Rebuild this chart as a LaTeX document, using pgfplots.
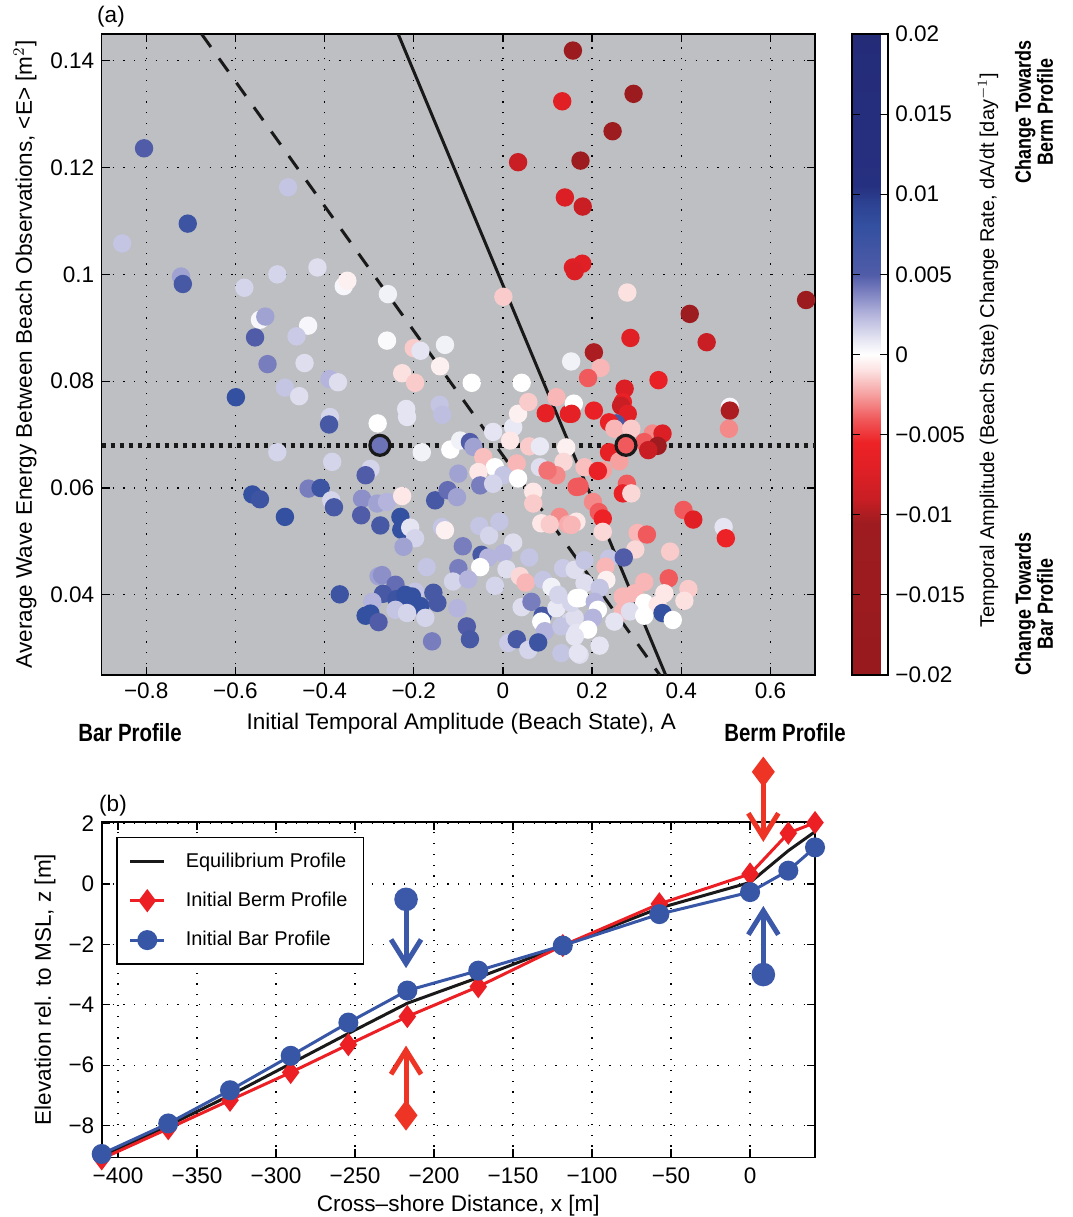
\documentclass[border=0pt]{standalone}
\usepackage{pgfplots}
\pgfplotsset{compat=1.18}
\usepackage{fontspec}
\setmainfont{Liberation Sans}
\usetikzlibrary{arrows.meta}
\definecolor{bggray}{RGB}{190,191,194}
\definecolor{lred}{RGB}{236,32,36}
\definecolor{lblue}{RGB}{56,86,166}
\definecolor{ared}{RGB}{238,52,36}
\definecolor{ablue}{RGB}{60,88,168}
\newcommand{\condbf}[2]{\scalebox{0.82}[1]{\fontsize{#1}{#1}\selectfont\bfseries #2}}
\pgfplotsset{
  every axis/.append style={font=\fontsize{11.3}{13.5}\selectfont, line width=0.8bp},
  every tick label/.append style={font=\fontsize{11.3}{13.5}\selectfont},
  tick align=inside,
  major tick length=4bp,
  every tick/.style={black, line width=0.6bp},
}
\pgfplotstableread{
x y c
-0.805 0.1236 0.005
-0.482 0.1163 0.002
-0.707 0.1095 0.007
-0.854 0.1058 0.002
-0.722 0.0996 0.003
-0.718 0.0982 0.006
-0.580 0.0975 0.0015
-0.506 0.1000 0.0015
-0.416 0.1013 0.0012
-0.357 0.0978 0.0003
-0.349 0.0988 -0.0005
-0.545 0.0915 0.0003
-0.533 0.0921 0.003
-0.437 0.0904 0.0003
-0.556 0.0882 0.005
-0.463 0.0884 0.0018
-0.528 0.0832 0.004
-0.445 0.0834 0.0012
-0.389 0.0804 0.0025
-0.370 0.0798 0.0012
-0.489 0.0788 0.002
-0.457 0.0772 0.0012
-0.599 0.0770 0.008
-0.388 0.0733 0.0015
-0.390 0.0719 0.006
-0.506 0.0667 0.0015
-0.383 0.0649 0.0015
-0.562 0.0588 0.008
-0.545 0.0579 0.007
-0.489 0.0546 0.008
-0.436 0.0599 0.004
-0.409 0.0600 0.007
-0.385 0.0577 0.0015
-0.379 0.0564 0.006
-0.366 0.0401 0.007
-0.258 0.0963 0.0005
0.001 0.0958 -0.0015
-0.260 0.0876 0.0002
-0.200 0.0862 -0.0015
-0.185 0.0857 0.001
-0.130 0.0868 0.0005
-0.141 0.0828 -0.0005
-0.226 0.0815 -0.001
-0.197 0.0797 -0.0015
-0.070 0.0797 0
0.042 0.0797 0
0.153 0.0837 0.0005
0.157 0.1013 -0.007
-0.217 0.0748 0.001
-0.215 0.0733 0.001
-0.142 0.0756 0.002
-0.136 0.0737 0.0022
-0.281 0.0721 0
-0.182 0.0667 0.0005
-0.118 0.0672 0
-0.096 0.0689 0.0005
-0.074 0.0686 0.005
-0.066 0.0677 0.003
-0.022 0.0705 0.001
0.023 0.0714 0.0008
0.034 0.0739 -0.0005
0.057 0.0761 -0.0015
0.120 0.0770 -0.002
0.096 0.0740 -0.0065
0.148 0.0739 -0.0065
0.016 0.0689 -0.0008
0.059 0.0678 -0.0015
0.083 0.0678 0.0008
0.142 0.0676 -0.0005
-0.044 0.0658 -0.0018
-0.018 0.0639 0
-0.055 0.0630 -0.0008
0.031 0.0646 -0.002
0.083 0.0639 0.0012
0.136 0.0649 -0.0012
0.120 0.0624 -0.003
-0.100 0.0627 0.003
-0.297 0.0636 0.0015
-0.308 0.0624 0.005
0.001 0.0624 0.002
-0.051 0.0605 0.004
-0.022 0.0608 0.0015
0.034 0.0618 0
-0.316 0.0580 0.0035
-0.282 0.0571 0.003
-0.260 0.0574 0.0025
-0.226 0.0585 -0.0008
-0.152 0.0577 0.006
-0.124 0.0596 0.0045
-0.103 0.0583 0.003
0.068 0.0593 -0.0008
0.068 0.0571 -0.0015
0.165 0.0602 -0.004
-0.318 0.0549 0.005
-0.275 0.0530 0.006
-0.230 0.0546 0.008
-0.228 0.0522 0.008
-0.208 0.0526 0.001
-0.197 0.0506 0.0015
-0.223 0.0490 0.003
-0.137 0.0527 0.002
-0.130 0.0521 -0.0005
-0.053 0.0529 0.002
-0.031 0.0511 0.0015
-0.008 0.0537 0.002
0.023 0.0498 0.0012
0.086 0.0534 -0.0008
0.127 0.0546 -0.003
0.146 0.0532 -0.0022
0.105 0.0532 -0.0015
-0.090 0.0491 0.004
-0.048 0.0475 0.006
-0.033 0.0470 0.0025
0.001 0.0478 0.0025
0.059 0.0470 0.002
-0.051 0.0452 0
0.008 0.0448 0.0012
-0.171 0.0452 0.002
-0.100 0.0450 0.004
-0.112 0.0425 0.0015
-0.078 0.0429 0.0025
-0.018 0.0417 0.0015
0.038 0.0435 -0.0012
0.051 0.0423 -0.002
0.090 0.0428 0.002
-0.279 0.0435 0.003
-0.271 0.0437 0.0035
-0.241 0.0419 0.0045
-0.197 0.0406 0.002
-0.269 0.0402 0.006
-0.293 0.0387 0.0025
-0.239 0.0392 0.007
-0.219 0.0400 0.008
-0.204 0.0397 0.008
-0.185 0.0379 0.008
-0.156 0.0404 0.006
-0.147 0.0385 0.006
-0.241 0.0372 0.002
-0.215 0.0366 0.0015
-0.174 0.0357 0.0015
-0.102 0.0375 0.0025
-0.308 0.0361 0.008
-0.297 0.0365 0.008
-0.279 0.0349 0.005
-0.081 0.0341 0.005
-0.074 0.0317 0.006
-0.159 0.0313 0.004
0.042 0.0377 0.0012
0.064 0.0387 0.004
0.089 0.0361 0.006
0.086 0.0350 0
0.120 0.0375 0.0008
0.150 0.0350 0.0015
0.094 0.0332 0.0025
0.131 0.0341 0.002
0.161 0.0357 0.0012
0.165 0.0329 0.001
0.012 0.0310 0.0018
0.031 0.0317 0.006
0.057 0.0297 0.0015
0.079 0.0311 0.007
0.131 0.0291 0.002
0.172 0.0288 0.0012
0.153 0.0385 0.0015
0.109 0.0415 0.0005
0.124 0.0400 0.0015
0.165 0.0394 0
0.135 0.0450 0.0018
0.161 0.0447 0.0012
0.178 0.1020 -0.007
0.161 0.1006 -0.0075
0.279 0.0966 -0.001
0.419 0.0926 -0.012
0.680 0.0952 -0.013
0.286 0.0881 -0.007
0.457 0.0873 -0.009
0.204 0.0854 -0.010
0.219 0.0825 -0.002
0.191 0.0806 -0.004
0.349 0.0802 -0.006
0.273 0.0786 -0.0075
0.269 0.0761 -0.006
0.265 0.0754 -0.009
0.280 0.0739 -0.007
0.204 0.0745 -0.006
0.159 0.0758 0
0.154 0.0739 -0.0065
0.509 0.0752 0.0003
0.509 0.0745 -0.010
0.507 0.0711 -0.003
0.254 0.0721 0.006
0.238 0.0723 -0.006
0.250 0.0711 -0.002
0.288 0.0711 -0.0015
0.336 0.0702 -0.003
0.358 0.0702 -0.0075
0.317 0.0686 -0.004
0.347 0.0679 -0.011
0.326 0.0671 -0.009
0.238 0.0667 -0.0065
0.261 0.0650 -0.0025
0.183 0.0639 -0.0018
0.224 0.0633 -0.0025
0.213 0.0632 -0.006
0.100 0.0633 -0.0035
0.172 0.0603 -0.004
0.278 0.0608 -0.004
0.269 0.0590 -0.006
0.288 0.0590 -0.0012
0.202 0.0574 -0.003
0.215 0.0555 -0.004
0.224 0.0543 -0.0055
0.165 0.0537 -0.0008
0.154 0.0531 -0.002
0.224 0.0518 -0.0012
0.302 0.0516 -0.002
0.323 0.0513 -0.004
0.405 0.0559 -0.004
0.427 0.0541 -0.007
0.495 0.0527 0.001
0.500 0.0506 -0.0055
0.297 0.0485 -0.0012
0.238 0.0468 0.002
0.183 0.0465 0.002
0.271 0.0470 0.005
0.375 0.0481 -0.0015
0.230 0.0453 -0.002
0.232 0.0428 -0.0005
0.183 0.0422 0.0012
0.317 0.0424 -0.002
0.372 0.0431 -0.004
0.416 0.0411 -0.0015
0.407 0.0389 -0.001
0.362 0.0403 -0.0008
0.295 0.0403 -0.002
0.269 0.0397 -0.002
0.217 0.0413 0.002
0.172 0.0394 0
0.206 0.0387 0.0025
0.317 0.0385 0
0.347 0.0381 -0.0008
0.269 0.0369 -0.002
0.285 0.0369 0.0012
0.358 0.0366 0.008
0.381 0.0353 0
0.317 0.0361 0
0.213 0.0372 0
0.202 0.0357 0.0025
0.191 0.0335 0
0.250 0.0350 0.001
0.161 0.0322 0.001
0.217 0.0305 0.001
0.168 0.0291 0.001
0.157 0.1419 -0.013
0.293 0.1338 -0.013
0.133 0.1324 -0.007
0.246 0.1268 -0.012
0.034 0.1210 -0.009
0.174 0.1213 -0.012
0.139 0.1144 -0.0075
0.179 0.1127 -0.009
}\scatterdata
\pgfplotstableread{
x black red blue
-410.3 -9.03 -9.10 -8.94
-368.2 -8.00 -8.10 -7.93
-329.1 -7.00 -7.16 -6.83
-290.7 -5.95 -6.24 -5.69
-254.2 -4.95 -5.32 -4.59
-216.9 -3.95 -4.39 -3.53
-172.0 -3.10 -3.40 -2.87
-118.5 -2.04 -2.04 -2.04
-57.4 -0.80 -0.66 -1.00
0.0 0.05 0.33 -0.27
24.2 1.10 1.68 0.44
41.1 1.73 2.03 1.21
}\profiles
\begin{document}
\begin{tikzpicture}
\path[use as bounding box] (0,0) rectangle (536.5bp,-608.5bp);
\begin{axis}[
  at={(50.85bp,-17bp)}, anchor=north west, scale only axis,
  width=356.65bp, height=320.5bp,
  xmin=-0.9, xmax=0.7, ymin=0.025, ymax=0.145,
  xtick={-0.8,-0.6,-0.4,-0.2,0,0.2,0.4,0.6},
  xticklabels={−0.8,−0.6,−0.4,−0.2,0,0.2,0.4,0.6},
  ytick={0.04,0.06,0.08,0.1,0.12,0.14},
  yticklabels={0.04,0.06,0.08,0.1,0.12,0.14},
  grid=major,
  major grid style={black, line width=0.6bp, dash pattern=on 0.6bp off 4.8bp},
  axis background/.style={fill=bggray},
  xlabel={Initial Temporal Amplitude (Beach State), A},
  xlabel style={at={(axis description cs:0.504,-0.0764)}, anchor=center},
  ylabel={Average Wave Energy Between Beach Observations, <E> [m$^2$]},
  ylabel style={at={(axis description cs:-0.1075,0.5)}, anchor=center},
  colormap={bwr}{rgb255(0pt)=(152,26,30); rgb255(19pt)=(158,28,32); rgb255(22pt)=(200,30,36); rgb255(26pt)=(225,32,38); rgb255(29pt)=(237,34,38); rgb255(32pt)=(240,90,92); rgb255(35pt)=(246,160,160); rgb255(38pt)=(252,225,225); rgb255(40pt)=(255,255,255); rgb255(42pt)=(228,228,242); rgb255(45pt)=(180,180,220); rgb255(48pt)=(120,125,190); rgb255(50pt)=(80,92,168); rgb255(56pt)=(52,80,160); rgb255(59pt)=(45,65,145); rgb255(61pt)=(38,48,128); rgb255(80pt)=(36,44,120)},
  point meta min=-0.02, point meta max=0.02,
  colorbar,
  colorbar style={
    at={(parent axis.north east)}, anchor=north west, xshift=10bp,
    scale only axis, width=18bp, height=320.5bp,
    scaled y ticks=false,
    ytick={-0.02,-0.015,-0.01,-0.005,0,0.005,0.01,0.015,0.02},
    yticklabels={−0.02,−0.015,−0.01,−0.005,0,0.005,0.01,0.015,0.02},
    tick align=inside, ytick pos=both, yticklabel pos=right,
    major tick length=4bp,
  },
]
\addplot[scatter, only marks, mark=*, mark size=4.2bp, scatter src=explicit,
  scatter/use mapped color={draw=mapped color, fill=mapped color}]
  table[x=x, y=y, meta=c] {\scatterdata};
\addplot[black!90, line width=1.5bp] coordinates {(-0.235,0.145) (0.365,0.025)};
\addplot[black!90, line width=1.5bp, dash pattern=on 8bp off 7bp] coordinates {(-0.676,0.145) (0.352,0.025)};
\addplot[black!90, line width=2.2bp, dash pattern=on 2.2bp off 2.3bp] coordinates {(-0.9,0.068) (0.7,0.068)};
\addplot[scatter, only marks, mark=*, mark size=5bp, scatter src=explicit,
  scatter/use mapped color={draw=black!90, fill=mapped color}, mark options={line width=1.6bp}]
  table[meta=c] {
x y c
-0.276 0.068 0.0043
0.276 0.068 -0.004
};
\end{axis}
\begin{axis}[
  at={(50.85bp,-410.85bp)}, anchor=north west, scale only axis,
  width=356.65bp, height=167.8bp,
  xmin=-410.3, xmax=41.1, ymin=-9.05, ymax=2.06,
  clip=false,
  xtick={-400,-350,-300,-250,-200,-150,-100,-50,0},
  xticklabels={−400,−350,−300,−250,−200,−150,−100,−50,0},
  ytick={-8,-6,-4,-2,0,2},
  yticklabels={−8,−6,−4,−2,0,2},
  xticklabel style={yshift=-1.5bp},
  grid=major,
  major grid style={black, line width=0.6bp, dash pattern=on 0.6bp off 4.8bp},
  xlabel={Cross–shore Distance, x [m]},
  xlabel style={at={(axis description cs:0.5,-0.145)}, anchor=center},
  ylabel={Elevation rel. to MSL, z [m]},
  ylabel style={at={(axis description cs:-0.0795,0.5)}, anchor=center},
  legend style={at={(axis description cs:0.02,0.955)}, anchor=north west,
    draw=black, line width=0.8bp, fill=white, row sep=7bp, inner xsep=6bp, inner ysep=5.5bp,
    font=\fontsize{10}{12}\selectfont,
    /tikz/every odd column/.append style={column sep=8bp}},
  legend cell align=left,
]
\addplot[black!90, line width=1.5bp] table[x=x, y=black] {\profiles};
\addlegendentry{Equilibrium Profile}
\addplot[lred, line width=1.5bp, mark=diamond*, mark size=4.6bp, mark options={solid, fill=lred}] table[x=x, y=red] {\profiles};
\addlegendentry{Initial Berm Profile}
\addplot[lblue, line width=1.5bp, mark=*, mark size=4.25bp, mark options={solid, fill=lblue}] table[x=x, y=blue] {\profiles};
\addlegendentry{Initial Bar Profile}
\addplot[ablue, line width=2.5bp, -{Straight Barb[length=12bp, width=15bp]}, forget plot] coordinates {(-217.7,-0.51) (-217.7,-2.79)};
\addplot[ablue, only marks, mark=*, mark size=5.5bp, forget plot] coordinates {(-217.7,-0.51)};
\addplot[ared, line width=2.5bp, -{Straight Barb[length=12bp, width=15bp]}, forget plot] coordinates {(-217.7,-7.66) (-217.7,-5.35)};
\addplot[ared, only marks, mark=diamond*, mark size=7bp, forget plot] coordinates {(-217.7,-7.66)};
\addplot[ared, line width=2.5bp, -{Straight Barb[length=12bp, width=15bp]}, forget plot] coordinates {(8.4,3.71) (8.4,1.39)};
\addplot[ared, only marks, mark=diamond*, mark size=7bp, forget plot] coordinates {(8.4,3.71)};
\addplot[ablue, line width=2.5bp, -{Straight Barb[length=12bp, width=15bp]}, forget plot] coordinates {(8.4,-3.0) (8.4,-0.73)};
\addplot[ablue, only marks, mark=*, mark size=5.5bp, forget plot] coordinates {(8.4,-3.0)};
\end{axis}
\node[font=\fontsize{11.3}{13.5}\selectfont] at (55.5bp,-8.5bp) {(a)};
\node[font=\fontsize{11.3}{13.5}\selectfont] at (56.5bp,-403bp) {(b)};
\node at (65bp,-366.5bp) {\condbf{12.5}{Bar Profile}};
\node at (392.5bp,-366.5bp) {\condbf{12.5}{Berm Profile}};
\node[rotate=90, font=\fontsize{10}{12}\selectfont] at (494bp,-175bp) {Temporal Amplitude (Beach State) Change Rate, dA/dt [day$^{-1}$]};
\node[rotate=90, align=center] at (517bp,-56bp) {\condbf{11}{Change Towards}\\[-1bp]\condbf{11}{Berm Profile}};
\node[rotate=90, align=center] at (517bp,-302bp) {\condbf{11}{Change Towards}\\[-1bp]\condbf{11}{Bar Profile}};
\end{tikzpicture}
\end{document}
